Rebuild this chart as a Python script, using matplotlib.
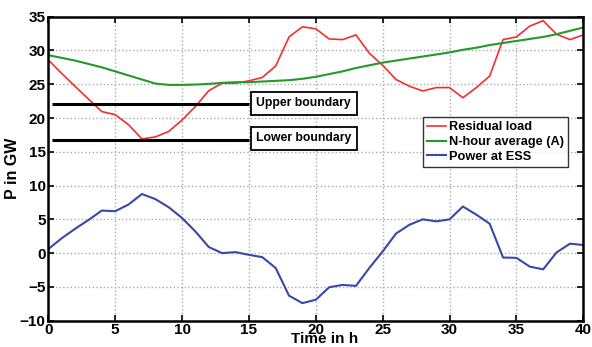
import numpy as np
import matplotlib.pyplot as plt

# hourly values
hours = list(range(41))
residual_load = [28.6, 26.6, 24.7, 22.8, 20.95, 20.5, 19.0, 16.9, 17.2, 18.0,
                 19.7, 21.7, 24.05, 25.15, 25.15, 25.5, 26.0, 27.7, 32.0, 33.5,
                 33.2, 31.7, 31.6, 32.3, 29.6, 27.8, 25.7, 24.7, 24.0, 24.5,
                 24.5, 23.0, 24.5, 26.2, 31.6, 32.0, 33.6, 34.4, 32.4, 31.6, 32.3]
n_hour_avg = [29.3, 28.9, 28.5, 28.0, 27.5, 26.9, 26.3, 25.7, 25.1, 24.9,
              24.9, 24.95, 25.05, 25.2, 25.3, 25.3, 25.4, 25.5, 25.6, 25.8,
              26.1, 26.5, 26.9, 27.4, 27.8, 28.2, 28.5, 28.8, 29.1, 29.4,
              29.7, 30.1, 30.4, 30.8, 31.1, 31.4, 31.7, 32.0, 32.4, 32.9, 33.4]
power_ess = [0.6, 2.2, 3.6, 4.9, 6.3, 6.2, 7.2, 8.75, 8.0, 6.8,
             5.2, 3.2, 0.9, 0.0, 0.15, -0.25, -0.6, -2.2, -6.3, -7.4,
             -6.9, -5.05, -4.7, -4.85, -2.2, 0.25, 2.9, 4.2, 5.0, 4.7,
             5.0, 6.9, 5.7, 4.35, -0.65, -0.7, -2.0, -2.4, 0.1, 1.4, 1.2]

upper_boundary = 22.0
lower_boundary = 16.75
boundary_span = [0.25, 15]

plt.rcParams['font.family'] = ['Liberation Sans', 'DejaVu Sans']
plt.rcParams['font.weight'] = 'bold'

fig = plt.figure(figsize=(5.92, 3.47), dpi=100)
ax = fig.add_axes([0.0816, 0.0758, 0.9037, 0.8762])

ax.plot(hours, residual_load, color='#f03030', lw=1.2, label='Residual load')
ax.plot(hours, n_hour_avg, color='#229a2a', lw=1.5, label='N-hour average (A)')
ax.plot(hours, power_ess, color='#3848a8', lw=1.5, label='Power at ESS')

ax.hlines([upper_boundary, lower_boundary], boundary_span[0], boundary_span[1],
          colors='black', lw=2.2)

box = dict(boxstyle='square,pad=0.45', fc='white', ec='black', lw=1.3)
ax.text(15.55, upper_boundary + 0.15, 'Upper boundary', fontsize=8.8, fontweight='bold',
        va='center', ha='left', bbox=box)
ax.text(15.55, lower_boundary + 0.25, 'Lower boundary', fontsize=8.8, fontweight='bold',
        va='center', ha='left', bbox=box)

ax.set_xlim(0, 40)
ax.set_ylim(-10, 35)
ax.set_xticks(range(0, 41, 5))
ax.set_yticks(range(-10, 36, 5))
ax.tick_params(direction='in', top=True, right=True, labelsize=11, length=4, width=1.2, pad=2)
for lab in ax.get_xticklabels() + ax.get_yticklabels():
    lab.set_fontweight('bold')
ax.grid(True, color='#aaaaaa', ls=':', lw=1.0)
for sp in ax.spines.values():
    sp.set_linewidth(1.8)

ax.set_xlabel('Time in h', fontsize=11, fontweight='bold')
ax.xaxis.set_label_coords(0.517, -0.036)
ax.set_ylabel('P in GW', fontsize=11.5, fontweight='bold', labelpad=0)

leg = ax.legend(loc='upper left', bbox_to_anchor=(0.700, 0.670), fontsize=9.2,
                frameon=True, fancybox=False, edgecolor='black', handlelength=1.45,
                handletextpad=0.25, borderpad=0.35, labelspacing=0.2, borderaxespad=0)
leg.get_frame().set_linewidth(1.0)
for t in leg.get_texts():
    t.set_fontweight('bold')

fig.savefig('out.png', dpi=100)
